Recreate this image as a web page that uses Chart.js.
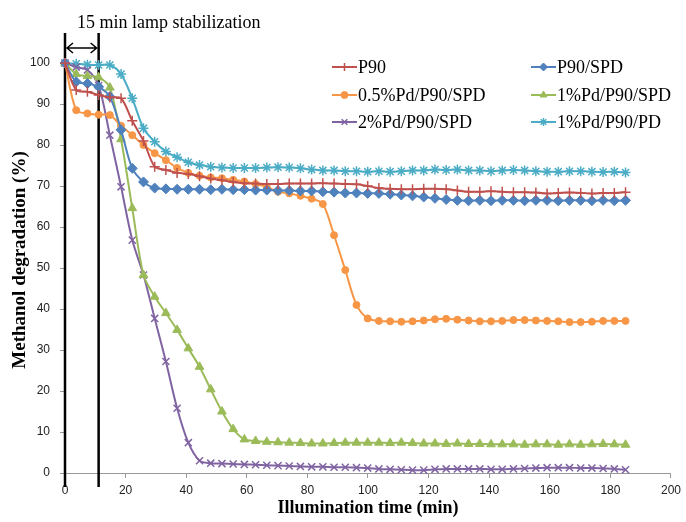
<!DOCTYPE html>
<html>
<head>
<meta charset="utf-8">
<script src="https://cdn.jsdelivr.net/npm/chart.js@4.4.0/dist/chart.umd.min.js"></script>
<style>
  html, body { margin: 0; padding: 0; background: #fff; }
</style>
</head>
<body>
<canvas id="chart" width="686" height="522"></canvas>
<script>
// illumination time (min)
const times = [0, 3.7, 7.4, 11.1, 14.8, 18.5, 22.2, 25.9, 29.6, 33.3,
    37, 40.7, 44.4, 48.1, 51.8, 55.5, 59.2, 62.9, 66.6, 70.3,
    74, 77.7, 81.4, 85.1, 88.8, 92.5, 96.2, 99.9, 103.6, 107.3,
    111, 114.7, 118.4, 122.1, 125.8, 129.5, 133.2, 136.9, 140.6, 144.3,
    148, 151.7, 155.4, 159.1, 162.8, 166.5, 170.2, 173.9, 177.6, 181.3, 185];

const p90 = [100, 93.4, 93.0, 92.2, 91.6, 91.4, 85.9, 81.0, 74.7, 73.9,
    73.2, 72.9, 72.4, 71.8, 71.4, 71.0, 70.7, 70.6, 70.5, 70.5,
    70.6, 70.6, 70.6, 70.7, 70.6, 70.5, 70.4, 70.0, 69.5, 69.3,
    69.2, 69.2, 69.3, 69.3, 69.2, 68.9, 68.6, 68.6, 68.7, 68.6,
    68.5, 68.5, 68.4, 68.2, 68.3, 68.4, 68.3, 68.2, 68.3, 68.3, 68.5];

const p90Spd = [100, 95.4, 95.0, 94.2, 91.8, 83.7, 74.3, 71.0, 69.5, 69.3,
    69.2, 69.2, 69.2, 69.1, 69.2, 69.1, 69.1, 69.0, 69.0, 68.9,
    68.9, 68.8, 68.8, 68.6, 68.5, 68.3, 68.3, 68.2, 68.2, 68.0,
    67.8, 67.6, 67.3, 67.0, 66.7, 66.5, 66.4, 66.5, 66.4, 66.5,
    66.5, 66.4, 66.5, 66.5, 66.4, 66.5, 66.5, 66.4, 66.5, 66.4, 66.5];

const pd05 = [100, 88.5, 87.7, 87.4, 87.3, 84.7, 82.4, 80.0, 78.0, 76.3,
    74.4, 73.2, 72.5, 72.1, 71.9, 71.5, 71.1, 70.5, 69.8, 68.6,
    68.2, 67.6, 66.9, 65.6, 58.0, 49.5, 41.0, 37.7, 37.1, 37.0,
    36.9, 37.0, 37.2, 37.5, 37.6, 37.4, 37.2, 37.0, 37.0, 37.1,
    37.3, 37.3, 37.2, 37.1, 37.0, 36.8, 36.8, 36.9, 37.1, 37.1, 37.1];

const pd1 = [100, 97.3, 96.8, 96.5, 94.0, 81.4, 64.6, 48.3, 43.0, 39.0,
    34.9, 30.4, 25.9, 20.4, 15.0, 10.7, 8.2, 7.8, 7.6, 7.5,
    7.4, 7.3, 7.2, 7.2, 7.3, 7.4, 7.4, 7.4, 7.4, 7.3,
    7.4, 7.3, 7.2, 7.2, 7.1, 7.2, 7.1, 7.1, 7.0, 7.0,
    7.0, 6.9, 7.0, 7.0, 6.9, 7.0, 6.9, 7.0, 7.1, 7.0, 6.9];

const pd2 = [100, 99.0, 98.3, 94.5, 82.4, 69.8, 56.8, 48.3, 37.7, 27.2,
    15.8, 7.4, 3.0, 2.4, 2.3, 2.2, 2.1, 2.0, 1.9, 1.8,
    1.7, 1.6, 1.5, 1.5, 1.4, 1.4, 1.3, 1.2, 1.0, 0.9,
    0.8, 0.7, 0.7, 0.9, 1.0, 1.0, 1.0, 1.0, 0.9, 0.9,
    1.0, 1.1, 1.2, 1.3, 1.3, 1.3, 1.2, 1.2, 1.1, 1.0, 0.8];

const pd1Pd = [100, 99.8, 99.6, 99.5, 99.5, 97.3, 91.4, 84.1, 80.8, 78.4,
    77.0, 75.8, 75.1, 74.7, 74.5, 74.4, 74.4, 74.4, 74.5, 74.6,
    74.5, 74.3, 74.0, 73.8, 73.8, 73.6, 73.6, 73.5, 73.6, 73.5,
    73.6, 73.8, 73.8, 74.0, 73.9, 74.0, 73.8, 73.8, 73.6, 73.8,
    73.9, 73.8, 73.6, 73.5, 73.5, 73.6, 73.6, 73.5, 73.4, 73.5, 73.3];

const seriesNames = ["P90", "P90/SPD", "0.5%Pd/P90/SPD", "1%Pd/P90/SPD", "2%Pd/P90/SPD", "1%Pd/P90/PD"];
const xTickValues = [0, 20, 40, 60, 80, 100, 120, 140, 160, 180, 200];
const yTickValues = [0, 10, 20, 30, 40, 50, 60, 70, 80, 90, 100];
const lampLines = [0, 11.1]; // start / end of lamp stabilization
const lampText = "15 min lamp stabilization";

const allSeries = [p90, p90Spd, pd05, pd1, pd2, pd1Pd];
const colors = ["#C0504D", "#4F81BD", "#F79646", "#9BBB59", "#8064A2", "#4BACC6"];
const markers = ["cross", "rectRot", "circle", "triangle", "crossRot", "star"];
const markerSize = [5, 5, 3.5, 5, 5, 5];

const serif = "'Liberation Serif', 'Times New Roman', serif";
const sans = "'Liberation Sans', Arial, sans-serif";

const datasets = allSeries.map((vals, i) => ({
    label: seriesNames[i],
    data: times.map((t, j) => ({ x: t, y: vals[j] })),
    borderColor: colors[i],
    backgroundColor: colors[i],
    borderWidth: 2,
    pointStyle: markers[i],
    pointRadius: markerSize[i],
    pointBorderWidth: (markers[i] === "cross" || markers[i] === "crossRot" || markers[i] === "star") ? 1.5 : 1,
    pointBackgroundColor: colors[i],
    pointBorderColor: colors[i],
    tension: 0.3,
    clip: false,
}));

const annotate = {
    id: "annotate",
    beforeDatasetsDraw(chart) {
        const { ctx, chartArea, scales } = chart;
        const xs = lampLines.map(v => scales.x.getPixelForValue(v));
        ctx.save();
        ctx.strokeStyle = "#000";
        ctx.lineWidth = 2.5;
        xs.forEach(px => {
            ctx.beginPath();
            ctx.moveTo(px, chartArea.top - 30);
            ctx.lineTo(px, chartArea.bottom + 14);
            ctx.stroke();
        });
        // double arrow between the two lines
        const ay = chartArea.top - 15;
        ctx.lineWidth = 1.5;
        ctx.beginPath();
        ctx.moveTo(xs[0] + 2, ay);
        ctx.lineTo(xs[1] - 2, ay);
        ctx.moveTo(xs[0] + 8, ay - 5);
        ctx.lineTo(xs[0] + 2, ay);
        ctx.lineTo(xs[0] + 8, ay + 5);
        ctx.moveTo(xs[1] - 8, ay - 5);
        ctx.lineTo(xs[1] - 2, ay);
        ctx.lineTo(xs[1] - 8, ay + 5);
        ctx.stroke();
        ctx.restore();
    },
    afterDraw(chart) {
        const { ctx, chartArea, scales } = chart;
        ctx.save();
        ctx.fillStyle = "#000";

        // annotation text
        ctx.font = "18px " + serif;
        ctx.textAlign = "left";
        ctx.textBaseline = "alphabetic";
        ctx.fillText(lampText, scales.x.getPixelForValue(lampLines[0]) + 12, 28);

        // axis titles
        ctx.textAlign = "center";
        ctx.textBaseline = "middle";
        ctx.font = "bold 18px " + serif;
        ctx.fillText("Illumination time (min)", (chartArea.left + chartArea.right) / 2, 508);
        ctx.save();
        ctx.translate(20, 260);
        ctx.rotate(-Math.PI / 2);
        ctx.font = "bold 19px " + serif;
        ctx.fillText("Methanol degradation (%)", 0, 0);
        ctx.restore();

        // legend: 3 rows x 2 columns
        const colX = [332, 531];
        const rowY = [67, 95, 122];
        ctx.font = "18px " + serif;
        ctx.textAlign = "left";
        chart.data.datasets.forEach((ds, i) => {
            const x = colX[i % 2];
            const y = rowY[Math.floor(i / 2)];
            ctx.strokeStyle = ds.borderColor;
            ctx.fillStyle = ds.borderColor;
            ctx.lineWidth = 2;
            ctx.beginPath();
            ctx.moveTo(x, y);
            ctx.lineTo(x + 25, y);
            ctx.stroke();
            ctx.lineWidth = ds.pointBorderWidth;
            Chart.helpers.drawPoint(ctx, {
                pointStyle: ds.pointStyle,
                radius: Math.min(ds.pointRadius, 4),
                rotation: 0,
                borderWidth: ds.pointBorderWidth,
            }, x + 12.5, y);
            ctx.fillStyle = "#000";
            ctx.fillText(ds.label, x + 26, y + 1);
        });
        ctx.restore();
    },
};

new Chart(document.getElementById("chart"), {
    type: "line",
    data: { datasets: datasets },
    options: {
        responsive: false,
        animation: false,
        devicePixelRatio: 1,
        layout: { padding: { top: 63, right: 11, left: 0, bottom: 0 } },
        plugins: {
            legend: { display: false },
            tooltip: { enabled: false },
        },
        scales: {
            x: {
                type: "linear",
                min: 0,
                max: 200,
                afterBuildTicks: s => { s.ticks = xTickValues.map(v => ({ value: v })); },
                afterFit: s => { s.height = 49; },
                grid: { drawOnChartArea: false, color: "#999", tickLength: 5 },
                border: { color: "#999", width: 1 },
                ticks: { color: "#222", font: { family: sans, size: 12 }, padding: 5, maxRotation: 0 },
            },
            y: {
                min: 0,
                max: 100,
                afterBuildTicks: s => { s.ticks = yTickValues.map(v => ({ value: v })); },
                afterFit: s => { s.width = 65; },
                grid: { drawOnChartArea: false, color: "#999", tickLength: 5 },
                border: { color: "#999", width: 1 },
                ticks: { color: "#222", font: { family: sans, size: 12 }, padding: 10 },
            },
        },
    },
    plugins: [annotate],
});
</script>
</body>
</html>
